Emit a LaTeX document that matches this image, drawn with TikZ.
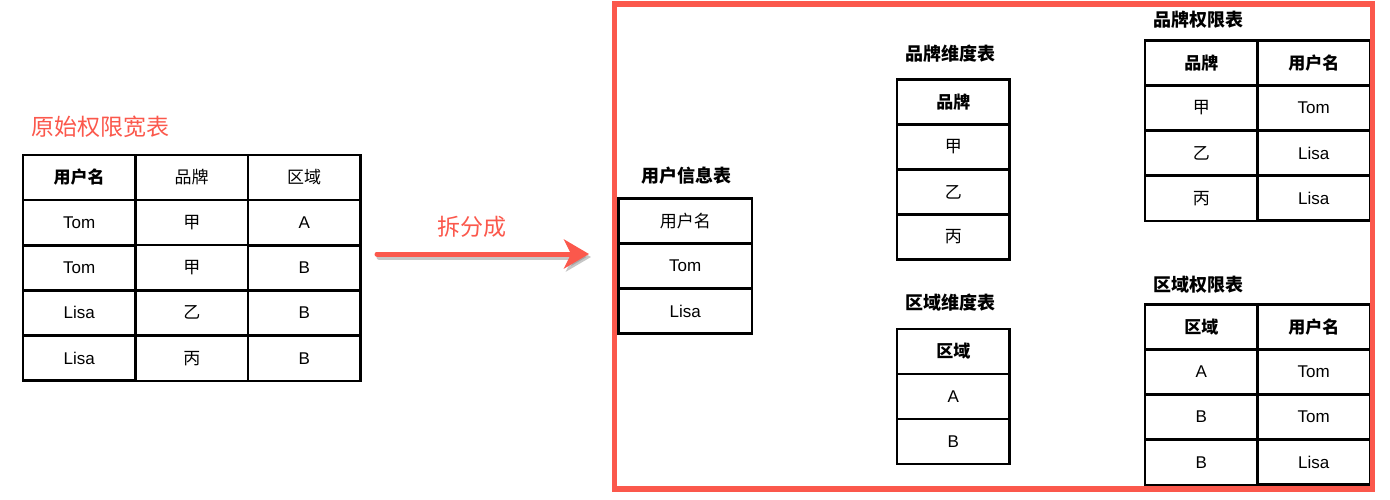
\documentclass[tikz,border=0pt]{standalone}
\usepackage{fontspec}
\setmainfont{Liberation Sans}
\newfontfamily\cjk{Noto Sans CJK SC}
\usetikzlibrary{matrix, arrows.meta}
\definecolor{splitred}{RGB}{251,88,76}
\tikzset{
	cell/.style={draw, line width=2.5pt, minimum height=45pt, inner sep=0pt, outer sep=0pt}, % one box of a table
	tbl/.style={matrix of nodes, column sep=-2.5pt, row sep=-2.5pt, inner sep=0pt, outer sep=0pt, anchor=north west,
		nodes={cell}, font=\fontsize{17}{17}\selectfont}, % a whole table
	hd/.style={font=\fontsize{17}{17}\selectfont\cjk\bfseries}, % bold header box
	zh/.style={font=\fontsize{17}{17}\selectfont\cjk}, % plain chinese box
	caption/.style={font=\fontsize{18}{18}\selectfont\cjk\bfseries}, % table name
	redtext/.style={text=splitred, font=\fontsize{23}{23}\selectfont\cjk},
}
\begin{document}
\begin{tikzpicture}[x=1pt, y=-1pt]
		\useasboundingbox (0,0) rectangle (1390,500);
		
		% Wide table
		\node[redtext] (origcap) at (100,127) {原始权限宽表};
		\matrix[tbl, nodes={minimum width=112.5pt}] (orig) at (21.75,153.75) {
			|[hd]| 用户名 & |[zh]| 品牌 & |[zh]| 区域 \\
			Tom & |[zh]| 甲 & A \\
			Tom & |[zh]| 甲 & B \\
			Lisa & |[zh]| 乙 & B \\
			Lisa & |[zh]| 丙 & B \\
		};
		
		% Split arrow
		\coordinate (split0) at (377,254);
		\coordinate (split1) at (589,254);
		\node[redtext] (splitcap) at (472,227) {拆分成};
		\draw[line width=5pt, gray, opacity=0.45, line cap=round, -{Stealth[length=25pt, width=29pt, inset=7pt]}]
		([shift={(2,3)}]split0) -- ([shift={(2,3)}]split1);
		\draw[line width=5pt, splitred, line cap=round, -{Stealth[length=25pt, width=29pt, inset=7pt]}]
		(split0) -- (split1);
		
		% User table
		\node[caption] (usercap) at (686,176) {用户信息表};
		\matrix[tbl, nodes={minimum width=133.5pt}] (user) at (617.25,197.25) {
			|[zh]| 用户名 \\
			Tom \\
			Lisa \\
		};
		
		% Dimension tables
		\node[caption] (branddimcap) at (950,54) {品牌维度表};
		\matrix[tbl, nodes={minimum width=112.5pt}] (branddim) at (895.75,78.25) {
			|[hd]| 品牌 \\
			|[zh]| 甲 \\
			|[zh]| 乙 \\
			|[zh]| 丙 \\
		};
		\node[caption] (areadimcap) at (950,303) {区域维度表};
		\matrix[tbl, nodes={minimum width=112.5pt}] (areadim) at (895.75,327.75) {
			|[hd]| 区域 \\
			A \\
			B \\
		};
		
		% Permission tables
		\node[caption] (brandpermcap) at (1198,20) {品牌权限表};
		\matrix[tbl, nodes={minimum width=112.5pt}] (brandperm) at (1143.75,39.25) {
			|[hd]| 品牌 & |[hd]| 用户名 \\
			|[zh]| 甲 & Tom \\
			|[zh]| 乙 & Lisa \\
			|[zh]| 丙 & Lisa \\
		};
		\node[caption] (areapermcap) at (1198,285) {区域权限表};
		\matrix[tbl, nodes={minimum width=112.5pt}] (areaperm) at (1143.75,303.25) {
			|[hd]| 区域 & |[hd]| 用户名 \\
			A & Tom \\
			B & Tom \\
			B & Lisa \\
		};
		
		% Frame round the split tables
		\draw[splitred, line width=5.5pt] (614.5,4) rectangle (1372.5,489);
	\end{tikzpicture}
\end{document}
